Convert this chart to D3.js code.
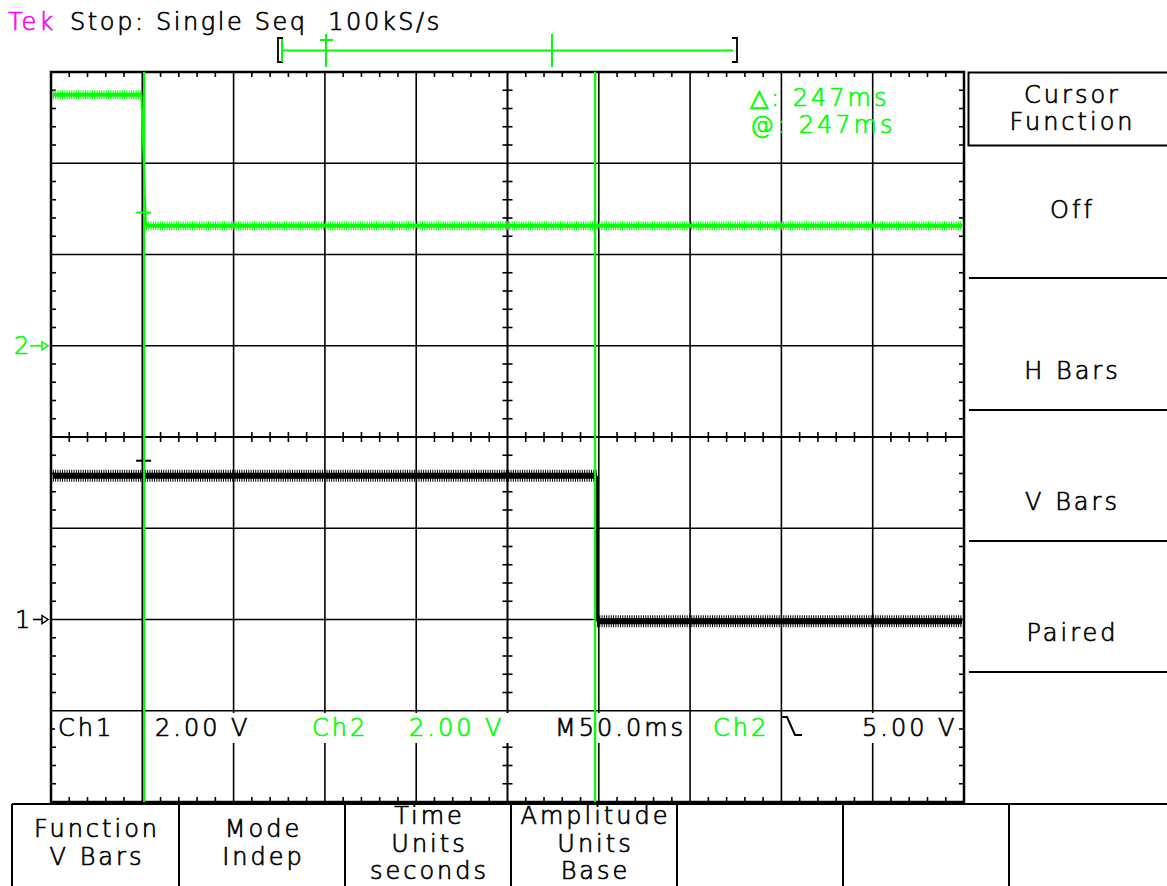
<!DOCTYPE html>
<html><head><meta charset="utf-8">
<script src="https://cdn.jsdelivr.net/npm/d3@7"></script>
<style>
body{margin:0;background:#fff;}
svg{display:block;}
text{font-family:"DejaVu Sans",sans-serif;font-weight:200;stroke-width:0.7px;white-space:pre;}
</style></head><body>
<svg id="c" width="1167" height="886"></svg>
<script>
// ---------------- data ----------------
const timeDomain = [-51, 449];          // ms across the 10 horizontal divisions (50 ms/div)
const msPerDiv = 50;
const divDomain = [-4, 4];              // vertical divisions
const ch1VoltsPerDiv = 2, ch2VoltsPerDiv = 2;
const ch1GroundDiv = -2, ch2GroundDiv = 1;
const ch1Time  = [-50, 248, 248, 448];
const ch1Volts = [3.15, 3.15, -0.04, -0.04];
const ch2Time  = [-50, -1.5, 1, 448];
const ch2Volts = [5.50, 5.50, 2.63, 2.63];
const cursorTimes = [0, 247];
const cursorMarkDiv = [{ch:2, div:2.46}, {ch:1, div:-0.26}];
const recordMarks = [0.097, 0.596];     // fraction of record: trigger cross, window tick
const headerBrand = "Tek";
const headerStatus = "Stop: Single Seq  100kS/s";
const cursorReadout = ["\u25B3: 247ms", "@: 247ms"];
const readoutLabels = ["Ch1", "2.00 V", "Ch2", "2.00 V", "M50.0ms", "Ch2", "5.00 V"];
const readoutColors = ["k", "k", "g", "g", "k", "g", "k"];
const sideMenuTitle = ["Cursor", "Function"];
const sideMenuItems = ["Off", "H Bars", "V Bars", "Paired"];
const bottomMenu = [["Function","V Bars"],["Mode","Indep"],["Time","Units","seconds"],["Amplitude","Units","Base"],[],[]];

// ---------------- setup ----------------
const G = "#00ff00", K = "#000000", M = "#ff00ff";
const col = c => c === "g" ? G : K;
const svg = d3.select("#c");
const L = 51, R = 964, T = 72, B = 802;
const x = d3.scaleLinear().domain(timeDomain).range([L, R]);
const yd = d3.scaleLinear().domain(divDomain).range([B, T]);
const y1 = v => yd(ch1GroundDiv + v / ch1VoltsPerDiv);
const y2 = v => yd(ch2GroundDiv + v / ch2VoltsPerDiv);
const fs = 24, ls = 3;
function txt(g, s, xx, yy, color, opts = {}) {
  const t = g.append("text").attr("x", xx).attr("y", yy).attr("font-size", opts.fs || fs)
    .attr("letter-spacing", opts.ls === undefined ? ls : opts.ls)
    .attr("fill", color).attr("stroke", color).text(s);
  if (opts.anchor) t.attr("text-anchor", opts.anchor);
  return t;
}

// ---------------- graticule ----------------
const grid = svg.append("g");
const vDivs = d3.range(0, 11).map(i => timeDomain[0] + msPerDiv * i);
const hDivs = d3.range(divDomain[0], divDomain[1] + 1);
const centerT = timeDomain[0] + msPerDiv * 5;
grid.selectAll("line.v").data(vDivs.slice(1, -1)).join("line")
  .attr("x1", d => x(d)).attr("x2", d => x(d)).attr("y1", T).attr("y2", B)
  .attr("stroke", K).attr("stroke-width", d => d === centerT ? 2 : 1.6);
grid.selectAll("line.h").data(hDivs.slice(1, -1)).join("line")
  .attr("x1", L).attr("x2", R).attr("y1", d => yd(d)).attr("y2", d => yd(d))
  .attr("stroke", K).attr("stroke-width", d => d === 0 ? 2 : 1.6);
const minorT = d3.range(0, 51).map(i => timeDomain[0] + i * msPerDiv / 5).filter((d, i) => i % 5 !== 0);
const minorV = d3.range(0, 41).map(i => divDomain[0] + i / 5).filter((d, i) => i % 5 !== 0);
const tk = 5;
const ticks = [];
minorT.forEach(t => {
  ticks.push([x(t), T, x(t), T + tk]);
  ticks.push([x(t), B, x(t), B - tk]);
  ticks.push([x(t), yd(0) - tk, x(t), yd(0) + tk]);
});
minorV.forEach(v => {
  ticks.push([L, yd(v), L + tk, yd(v)]);
  ticks.push([R, yd(v), R - tk, yd(v)]);
  ticks.push([x(centerT) - tk, yd(v), x(centerT) + tk, yd(v)]);
});
grid.selectAll("line.t").data(ticks).join("line")
  .attr("x1", d => d[0]).attr("y1", d => d[1]).attr("x2", d => d[2]).attr("y2", d => d[3])
  .attr("stroke", K).attr("stroke-width", 1.6);

// ---------------- traces ----------------
function trace(times, volts, yf, color, core, outer) {
  const g = svg.append("g");
  for (let i = 0; i < times.length - 1; i++) {
    const x0 = x(times[i]), x1 = x(times[i + 1]), a = yf(volts[i]), b = yf(volts[i + 1]);
    if (volts[i] === volts[i + 1]) {
      g.append("line").attr("x1", x0).attr("x2", x1).attr("y1", a).attr("y2", b)
        .attr("stroke", color).attr("stroke-width", outer).attr("stroke-dasharray", "1 1.3");
      g.append("line").attr("x1", x0).attr("x2", x1).attr("y1", a).attr("y2", b)
        .attr("stroke", color).attr("stroke-width", core);
    } else {
      g.append("line").attr("x1", x0).attr("x2", x1).attr("y1", a).attr("y2", b)
        .attr("stroke", color).attr("stroke-width", 2);
    }
  }
}
trace(ch2Time, ch2Volts, y2, G, 4, 9);
trace(ch1Time, ch1Volts, y1, K, 6, 12);

svg.selectAll("line.cm").data(cursorMarkDiv).join("line")
  .attr("x1", x(cursorTimes[0]) - 8).attr("x2", x(cursorTimes[0]) + 7)
  .attr("y1", d => yd(d.div)).attr("y2", d => yd(d.div))
  .attr("stroke", d => d.ch === 2 ? G : K).attr("stroke-width", 2);

// ---------------- readout band ----------------
const rb = svg.append("g");
const readX = [58, 155, 312, 409, 555, 713, 862];
const readPadR = [3, 3, 3, 12, 0, 3, 3];
readoutLabels.forEach((s, i) => {
  const t = txt(rb, s, readX[i], 736, col(readoutColors[i]));
  const bb = t.node().getBBox();
  rb.insert("rect", "text").attr("x", bb.x - 3).attr("y", 713).attr("width", bb.width + readPadR[i]).attr("height", 30).attr("fill", "#fff");
});
rb.append("path").attr("d", "M782,717 h5 l8,18 h7").attr("fill", "none").attr("stroke", K).attr("stroke-width", 2);

svg.append("rect").attr("x", L).attr("y", T).attr("width", R - L).attr("height", B - T)
  .attr("fill", "none").attr("stroke", K).attr("stroke-width", 2.5);

// ---------------- cursors ----------------
svg.selectAll("line.cur").data(cursorTimes).join("line")
  .attr("x1", d => x(d)).attr("x2", d => x(d)).attr("y1", T).attr("y2", B)
  .attr("stroke", G).attr("stroke-width", 2.2);

cursorReadout.forEach((s, i) => txt(svg, s, 750, 106 + i * 27, G));

// ground markers
function groundMarker(label, yy, color, lx, ax) {
  txt(svg, label, lx, yy + 8, color, {ls: 0});
  svg.append("line").attr("x1", ax).attr("x2", 43).attr("y1", yy).attr("y2", yy).attr("stroke", color).attr("stroke-width", 1.6);
  svg.append("path").attr("d", `M42,${yy - 4} L48,${yy} L42,${yy + 4} Z`).attr("fill", "#fff").attr("stroke", color).attr("stroke-width", 1.5);
}
groundMarker("2", y2(0), G, 14, 30);
groundMarker("1", y1(0), K, 15, 33);

// ---------------- header ----------------
txt(svg, headerBrand, 8, 30, M, {ls: 3});
txt(svg, headerStatus, 70, 30, K, {ls: 2.6});

const rx = d3.scaleLinear().domain([0, 1]).range([282, 735]);
const bar = svg.append("g");
bar.append("path").attr("d", "M283,38 H278 V62 H283").attr("fill", "none").attr("stroke", K).attr("stroke-width", 1.8);
bar.append("path").attr("d", "M732,38 H737 V62 H732").attr("fill", "none").attr("stroke", K).attr("stroke-width", 1.8);
bar.append("line").attr("x1", rx(0)).attr("x2", rx(0)).attr("y1", 39).attr("y2", 62).attr("stroke", G).attr("stroke-width", 2);
bar.append("line").attr("x1", rx(0)).attr("x2", rx(1) - 2).attr("y1", 50.5).attr("y2", 50.5).attr("stroke", G).attr("stroke-width", 2);
bar.selectAll("line.rm").data(recordMarks).join("line")
  .attr("x1", d => rx(d)).attr("x2", d => rx(d)).attr("y1", 34).attr("y2", 67).attr("stroke", G).attr("stroke-width", 2);
bar.append("line").attr("x1", rx(recordMarks[0]) - 6).attr("x2", rx(recordMarks[0]) + 7).attr("y1", 40).attr("y2", 40).attr("stroke", G).attr("stroke-width", 2);

// ---------------- side menu ----------------
const sm = svg.append("g");
sm.append("path").attr("d", "M1167,72.5 H968.5 V145.5 H1167").attr("fill", "none").attr("stroke", K).attr("stroke-width", 2);
[278, 410, 541, 672].forEach(yy => sm.append("line").attr("x1", 969).attr("x2", 1167).attr("y1", yy).attr("y2", yy).attr("stroke", K).attr("stroke-width", 2));
const ctext = (g, s, cx, by) => txt(g, s, cx + ls / 2, by, K, {anchor: "middle"});
ctext(sm, sideMenuTitle[0], 1071, 103);
ctext(sm, sideMenuTitle[1], 1071, 130);
const sideY = [218, 379, 510, 641];
sideMenuItems.forEach((s, i) => ctext(sm, s, 1071, sideY[i]));

// ---------------- bottom menu ----------------
const bm = svg.append("g");
bm.append("line").attr("x1", 12).attr("x2", 1167).attr("y1", 804).attr("y2", 804).attr("stroke", K).attr("stroke-width", 2);
const bx = [12, 179, 345, 511, 677, 843, 1009];
bx.forEach(v => bm.append("line").attr("x1", v).attr("x2", v).attr("y1", 804).attr("y2", 886).attr("stroke", K).attr("stroke-width", 2));
bottomMenu.forEach((lines, i) => {
  const cx = (bx[i] + (bx[i + 1] || 1175)) / 2;
  const start = lines.length === 3 ? 824 : 837;
  lines.forEach((s, j) => ctext(bm, s, cx, start + j * 27.5));
});
</script>
</body></html>
